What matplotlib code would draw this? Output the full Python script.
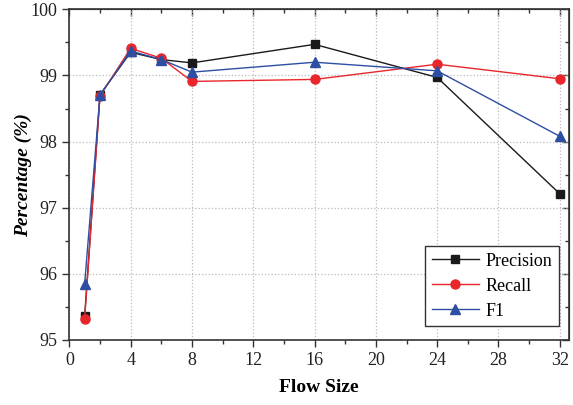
import matplotlib
matplotlib.use("Agg")
import matplotlib.pyplot as plt
from matplotlib.ticker import MultipleLocator

flow_size = [1, 2, 4, 6, 8, 16, 24, 32]
precision = [95.36, 98.71, 99.35, 99.24, 99.19, 99.47, 98.97, 97.21]
recall = [95.32, 98.69, 99.41, 99.26, 98.91, 98.94, 99.17, 98.95]
f1 = [95.85, 98.70, 99.37, 99.24, 99.05, 99.20, 99.07, 98.08]

plt.rcParams['font.family'] = ['Liberation Serif', 'DejaVu Serif']
plt.rcParams['mathtext.fontset'] = 'stix'

fig = plt.figure(figsize=(5.73, 4.05), dpi=100)
ax = fig.add_axes([0.121, 0.1605, 0.872, 0.8165])

ax.plot(flow_size, precision, color='#1a1a1a', marker='s', markersize=6, lw=1.0, label='Precision')
ax.plot(flow_size, recall, color='#e8262b', marker='o', markersize=6.5, lw=1.0, label='Recall')
ax.plot(flow_size, f1, color='#2e4ea3', marker='^', markersize=7, lw=1.0, label='F1')

ax.set_xlim(0, 32.6)
ax.set_ylim(95, 100)
ax.xaxis.set_major_locator(MultipleLocator(4))
ax.xaxis.set_minor_locator(MultipleLocator(2))
ax.yaxis.set_major_locator(MultipleLocator(1))
ax.yaxis.set_minor_locator(MultipleLocator(0.5))
ax.tick_params(which='major', direction='out', length=5, width=1, labelsize=13, colors='#333333', labelcolor='#222222')
ax.tick_params(which='minor', direction='out', length=3, width=1, colors='#333333')
for s in ax.spines.values():
    s.set_linewidth(1.2)
    s.set_color('#333333')

ax.grid(True, which='major', linestyle=':', color='#bbbbbb', linewidth=0.9)

top = ax.secondary_xaxis('top')
top.xaxis.set_major_locator(MultipleLocator(4))
top.xaxis.set_minor_locator(MultipleLocator(2))
top.tick_params(which='major', direction='in', length=5, width=1, labeltop=False, colors='#333333')
top.tick_params(which='minor', direction='in', length=3, width=1, colors='#333333')
right = ax.secondary_yaxis('right')
right.yaxis.set_major_locator(MultipleLocator(1))
right.yaxis.set_minor_locator(MultipleLocator(0.5))
right.tick_params(which='major', direction='in', length=5, width=1, labelright=False, colors='#333333')
right.tick_params(which='minor', direction='in', length=3, width=1, colors='#333333')

ax.set_xlabel('Flow Size', fontsize=14, fontweight='bold', labelpad=7)
ax.set_ylabel('Percentage (%)', fontsize=14, fontweight='bold', style='italic', labelpad=-1)

leg = ax.legend(loc='lower right', bbox_to_anchor=(0.98, 0.042), borderaxespad=0,
                fontsize=13, frameon=True, fancybox=False,
                edgecolor='#333333', framealpha=1,
                handlelength=2.6, labelspacing=0.45, borderpad=0.35, handletextpad=0.4)
leg.get_frame().set_linewidth(1.0)

fig.savefig('out.png', dpi=100)
